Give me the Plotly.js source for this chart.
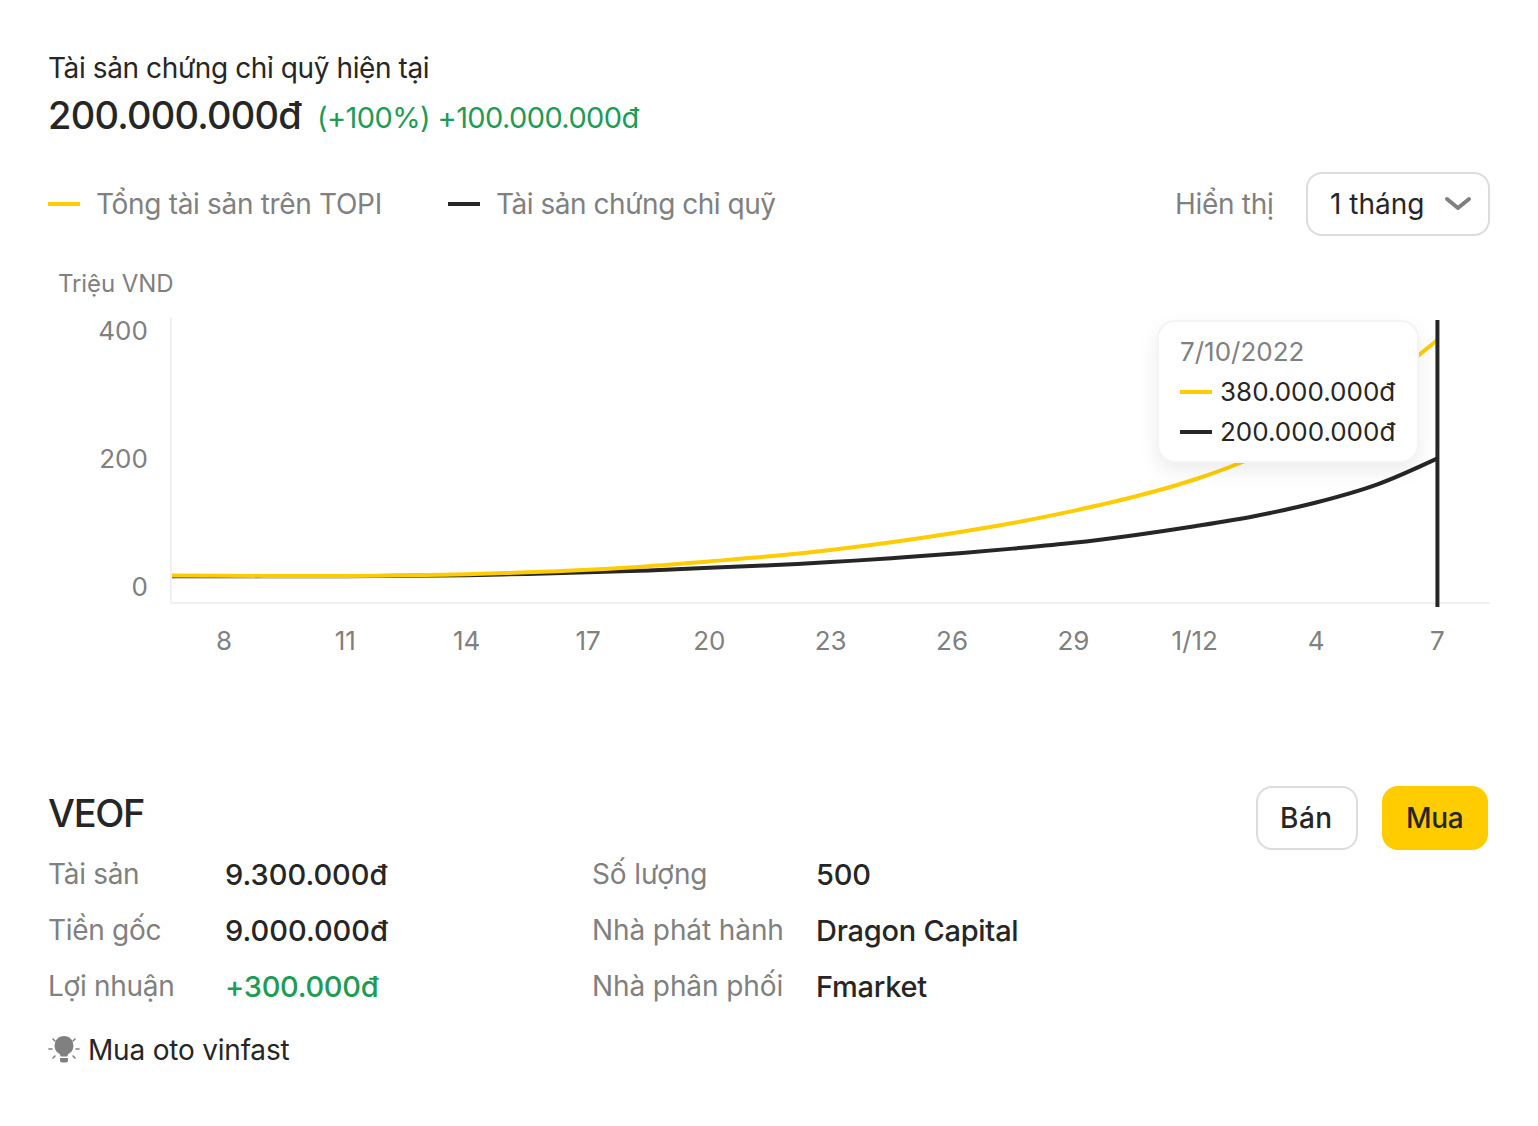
<!DOCTYPE html>
<html><head><meta charset="utf-8">
<script src="https://cdn.plot.ly/plotly-3.0.1.min.js"></script>
<style>
html,body{margin:0;padding:0;background:#fff;width:1538px;height:1126px;overflow:hidden}
#chart{position:absolute;left:0;top:0;width:1538px;height:1126px}
.t{position:absolute;white-space:nowrap;line-height:1;font-family:Inter,"Noto Sans",sans-serif;transform:translateY(-50%);z-index:3}
.box{position:absolute;box-sizing:border-box;z-index:2}
</style></head><body>
<div id="chart"></div>
<script>
// Chart data
const dayPositions = [-1.29, 0, 1.5, 3, 4.5, 6, 7.5, 9, 10.5, 12, 13.5, 15, 16.5, 18, 19.5, 21, 22.5, 24, 25.5, 27, 28.5, 30];
const totalAssets  = [18, 17.6, 17.3, 17.3, 18.3, 20, 23, 27, 32.5, 40, 48, 58, 70, 84, 100, 119, 141, 168, 204, 252, 312, 386];
const fundAssets   = [17, 17, 17, 17, 17.5, 18.5, 20.5, 23, 26, 30, 34, 39, 45, 52, 60, 69, 81, 95, 111, 132, 160, 201];
const tickPositions = [0, 3, 6, 9, 12, 15, 18, 21, 24, 27, 30];
const tickLabels = ['8','11','14','17','20','23','26','29','1/12','4','7'];
const yTicks = [0, 200, 400];
const seriesNames = ['Tổng tài sản trên TOPI','Tài sản chứng chỉ quỹ'];

const YELLOW='#FFCC00', DARK='#262626', GRAY='#808080', GREEN='#1E9B55', FONT='Inter, "Noto Sans", sans-serif';

Plotly.newPlot('chart',[
 {x:dayPositions,y:fundAssets,name:seriesNames[1],mode:'lines',line:{color:DARK,width:4,shape:'spline',smoothing:1},hoverinfo:'skip'},
 {x:dayPositions,y:totalAssets,name:seriesNames[0],mode:'lines',line:{color:YELLOW,width:4,shape:'spline',smoothing:1},hoverinfo:'skip'}
],{
 width:1538,height:1126,showlegend:false,
 paper_bgcolor:'#fff',plot_bgcolor:'#fff',
 margin:{l:172,r:48,t:317,b:524,pad:0},
 font:{family:FONT,size:26,color:GRAY},
 xaxis:{range:[-1.286,31.3],tickmode:'array',tickvals:tickPositions,ticktext:tickLabels,showgrid:false,zeroline:false,
  showline:true,linecolor:'#F0F0F0',linewidth:2,ticks:'',ticklabelstandoff:15,tickfont:{size:26,color:GRAY}},
 yaxis:{range:[-23.4,421.9],tickmode:'array',tickvals:yTicks,ticktext:yTicks.map(String),showgrid:false,zeroline:false,
  showline:true,linecolor:'#F0F0F0',linewidth:2,ticks:'',ticklabelstandoff:17,tickfont:{size:26,color:GRAY}},
 shapes:[{type:'line',xref:'x',yref:'paper',x0:30,x1:30,y0:-5/285,y1:282/285,line:{color:DARK,width:4}}]
},{displayModeBar:false,staticPlot:true});

function text(s,x,y,size,color,weight,ls){
 const e=document.createElement('div');e.className='t';e.textContent=s;
 e.style.cssText=`left:${x}px;top:${y}px;font-size:${size}px;color:${color};font-weight:${weight||400};letter-spacing:${ls||0}px`;
 document.body.appendChild(e);return e;
}
function box(x,y,w,h,css){
 const e=document.createElement('div');e.className='box';
 e.style.cssText=`left:${x}px;top:${y}px;width:${w}px;height:${h}px;${css}`;
 document.body.appendChild(e);return e;
}
// Header
text('Tài sản chứng chỉ quỹ hiện tại',48,68,28,DARK,400,-0.4);
text('200.000.000đ',48,115,38,DARK,500,-0.75);
text('(+100%) +100.000.000đ',317,117,29,GREEN,400,-0.6);
// Legend
box(48,202,32,4,`background:${YELLOW}`);
text(seriesNames[0],96,204,28,GRAY,400,-0.32);
box(448,202,32,4,`background:${DARK}`);
text(seriesNames[1],496,204,28,GRAY,400,-0.47);
text('Hiển thị',1175,204,28,GRAY,400,-0.3);
box(1306,172,184,64,'border:2px solid #DCDCDC;border-radius:16px;background:#fff');
text('1 tháng',1330,204,28,DARK,400,0);
const ns='<svg xmlns="http://www.w3.org/2000/svg" style="position:absolute;z-index:3;';
document.body.insertAdjacentHTML('beforeend',ns+'left:1444px;top:194px" width="28" height="20" viewBox="0 0 28 20"><path d="M3 5 L14 14 L25 5" fill="none" stroke="#808080" stroke-width="4" stroke-linecap="round" stroke-linejoin="round"/></svg>');
text('Triệu VND',58,284,24,GRAY,400,-0.1);
// Tooltip
box(1157,320,262,143,'background:#fff;border:2px solid #F4F4F4;border-radius:18px;box-shadow:0 8px 20px rgba(0,0,0,.08)');
text('7/10/2022',1180,351.5,26,GRAY,400,0);
box(1180,390,32,4,`background:${YELLOW};z-index:3`);
text('380.000.000đ',1220,391.5,26,DARK,400,0);
box(1180,430,32,4,`background:${DARK};z-index:3`);
text('200.000.000đ',1220,431.5,26,DARK,400,0);
// Fund block
text('VEOF',48,813,38,DARK,500,-1.3);
box(1256,786,102,64,'border:2px solid #DCDCDC;border-radius:16px;background:#fff');
text('Bán',1280,818,28,DARK,500,0.5);
box(1382,786,106,64,`background:${YELLOW};border-radius:16px`);
text('Mua',1406,818,28,DARK,500,-0.3);
const rowY=[874,930,986];
const leftLabels=['Tài sản','Tiền gốc','Lợi nhuận'];
const leftValues=['9.300.000đ','9.000.000đ','+300.000đ'];
const rightLabels=['Số lượng','Nhà phát hành','Nhà phân phối'];
const rightValues=['500','Dragon Capital','Fmarket'];
rowY.forEach((y,i)=>{
 text(leftLabels[i],48,y,28,GRAY,400,-0.3);
 text(leftValues[i],225,y-0.5,29,i==2?GREEN:DARK,500,i==2?-0.3:0);
 text(rightLabels[i],592,y,28,GRAY,400,-0.1);
 text(rightValues[i],816,y-0.5,29,DARK,500,-0.25);
});
// Note
document.body.insertAdjacentHTML('beforeend',ns+'left:47px;top:1033px" width="34" height="32" viewBox="0 0 34 32"><g stroke="#808080" stroke-width="1.6" stroke-linecap="round"><path d="M2 16h3M29 16h3M6 6l2 2M28 6l-2 2M6 25l2-2M28 25l-2-2"/></g><path d="M17 3a9.5 9.5 0 0 0-5 17.5c1 .8 1.4 1.6 1.5 3h7c.1-1.4.5-2.2 1.5-3A9.500 9.500 0 0 0 17 3z" fill="#808080"/><path d="M13 25h8v2.500a2 2 0 0 1-2 2h-4a2 2 0 0 1-2-2z" fill="#808080"/></svg>');
text('Mua oto vinfast',88,1050,28,DARK,400,-0.2);
</script>
</body></html>
